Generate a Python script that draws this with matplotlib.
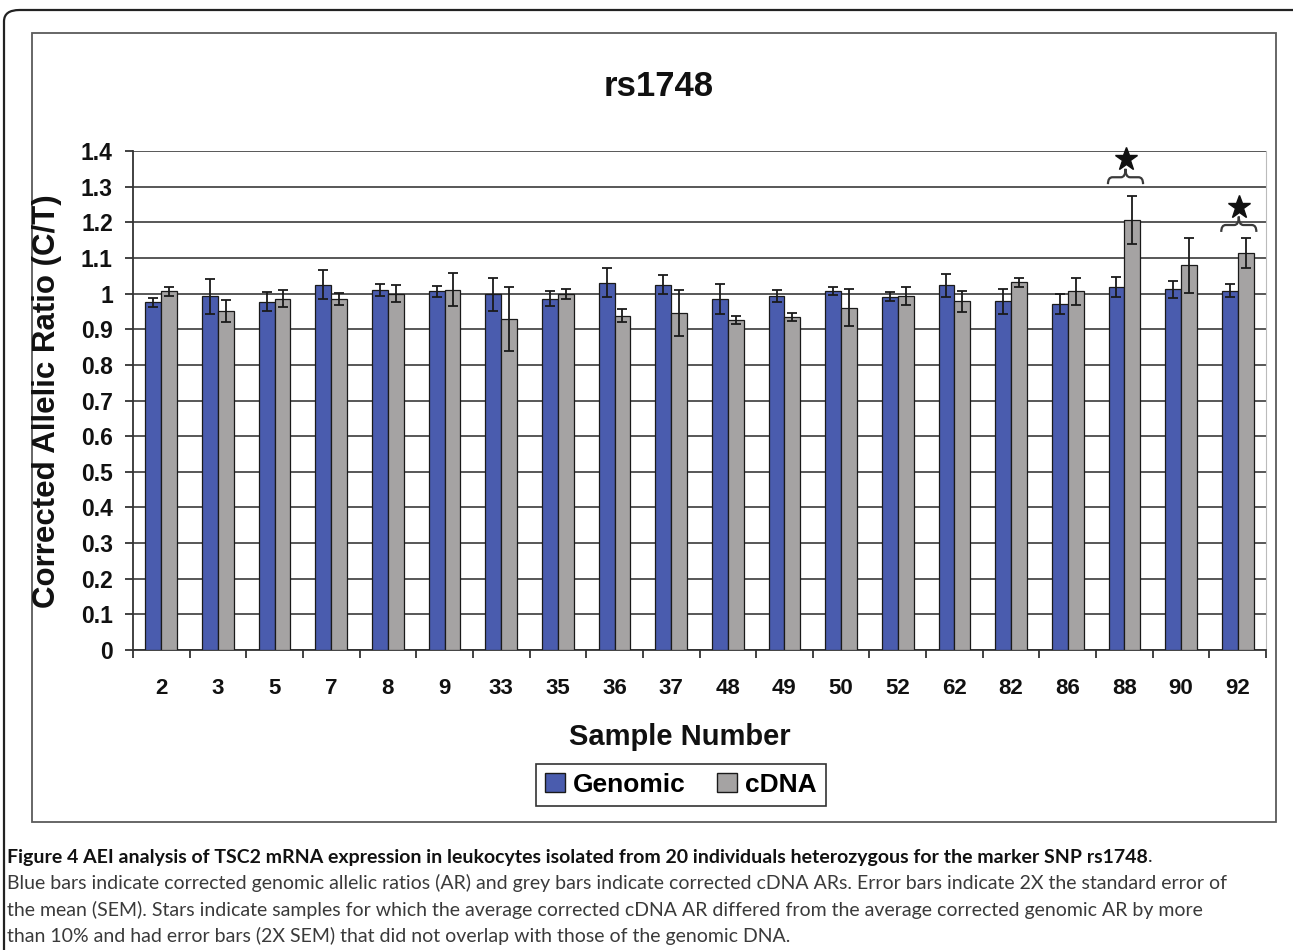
import numpy as np
import matplotlib
matplotlib.use("Agg")
import matplotlib.pyplot as plt
from matplotlib.patches import Patch, Rectangle, FancyBboxPatch, PathPatch
from matplotlib.path import Path
from matplotlib.ticker import FixedLocator, FuncFormatter

plt.rcParams["font.family"] = ["Liberation Sans", "DejaVu Sans"]

# Data
samples = ["2", "3", "5", "7", "8", "9", "33", "35", "36", "37",
           "48", "49", "50", "52", "62", "82", "86", "88", "90", "92"]
genomic = [0.975, 0.992, 0.977, 1.025, 1.011, 1.006, 0.998, 0.986, 1.031, 1.025,
           0.986, 0.993, 1.008, 0.991, 1.023, 0.978, 0.971, 1.019, 1.012, 1.008]
genomic_err = [0.012, 0.050, 0.027, 0.040, 0.017, 0.015, 0.047, 0.020, 0.040, 0.027,
               0.042, 0.016, 0.011, 0.013, 0.032, 0.034, 0.029, 0.028, 0.024, 0.018]
cdna = [1.006, 0.951, 0.986, 0.985, 1.000, 1.011, 0.929, 1.000, 0.938, 0.946,
        0.926, 0.935, 0.960, 0.993, 0.978, 1.032, 1.006, 1.207, 1.079, 1.115]
cdna_err = [0.013, 0.030, 0.023, 0.017, 0.023, 0.047, 0.089, 0.014, 0.019, 0.065,
            0.010, 0.011, 0.052, 0.026, 0.029, 0.013, 0.039, 0.067, 0.078, 0.042]
starred = ["88", "92"]

W, H = 1293, 950
fig = plt.figure(figsize=(W / 100, H / 100), dpi=100)

def fx(px):
    return px / W

def fy(py):
    return 1 - py / H

# outer rounded border (bottom/right run off the page) and inner chart frame
fig.patches.append(FancyBboxPatch((fx(4), fy(990)), fx(1340), fy(10) - fy(990),
                                  boxstyle="round,pad=0,rounding_size=0.012",
                                  transform=fig.transFigure, fill=False,
                                  edgecolor="#222222", lw=1.6, clip_on=False))
fig.patches.append(Rectangle((fx(32), fy(822)), fx(1244), fy(33) - fy(822),
                             transform=fig.transFigure, fill=False,
                             edgecolor="#5a5a5a", lw=1.3))

ax = fig.add_axes([fx(133), fy(650), fx(1266) - fx(133), fy(151) - fy(650)])

x = np.arange(len(samples))
w = 0.28
blue = "#4a5cae"
grey = "#a5a3a3"
ax.bar(x - w / 2, genomic, w, color=blue, edgecolor="#1a1a1a", lw=0.9, zorder=3)
ax.bar(x + w / 2, cdna, w, color=grey, edgecolor="#1a1a1a", lw=0.9, zorder=3)
ax.errorbar(x - w / 2, genomic, yerr=genomic_err, fmt="none", ecolor="#1a1a1a",
            elinewidth=1.3, capsize=3.5, capthick=1.3, zorder=4)
ax.errorbar(x + w / 2, cdna, yerr=cdna_err, fmt="none", ecolor="#1a1a1a",
            elinewidth=1.3, capsize=3.5, capthick=1.3, zorder=4)

ax.set_xlim(-0.5, len(samples) - 0.5)
ax.set_ylim(0, 1.4)
yt = np.round(np.arange(0, 1.41, 0.1), 1)
ax.yaxis.set_major_locator(FixedLocator(yt))
ax.yaxis.set_major_formatter(FuncFormatter(lambda v, p: f"{v:g}"))
ax.grid(axis="y", color="#4a4a4a", lw=1.3, zorder=1)
ax.set_axisbelow(True)

ax.set_xticks(x)
ax.set_xticklabels(samples)
ax.set_xticks(np.arange(len(samples) + 1) - 0.5, minor=True)
ax.tick_params(axis="x", which="major", length=0, pad=20, labelsize=16)
ax.tick_params(axis="x", which="minor", length=5.5, width=1.3, color="#333333")
ax.tick_params(axis="y", length=5.5, width=1.3, color="#333333", pad=9, labelsize=16.5)
for lab in ax.get_xticklabels() + ax.get_yticklabels():
    lab.set_fontweight("bold")
    lab.set_color("#111111")

ax.spines["top"].set_visible(False)
ax.spines["right"].set_color("#bbbbbb")
ax.spines["left"].set_color("#333333")
ax.spines["left"].set_lw(1.3)
ax.spines["bottom"].set_color("#333333")
ax.spines["bottom"].set_lw(1.3)

# stars with curly braces
def brace(xc, yb, half=0.31, h=0.043):
    ym = yb + h * 0.45
    yt_ = yb + h
    r = 0.08
    verts = [(xc - half, yb), (xc - half, ym), (xc - half + r, ym),
             (xc - r, ym), (xc, ym), (xc, yt_),
             (xc, ym), (xc + r, ym),
             (xc + half - r, ym), (xc + half, ym), (xc + half, yb)]
    codes = [Path.MOVETO, Path.CURVE3, Path.CURVE3,
             Path.LINETO, Path.CURVE3, Path.CURVE3,
             Path.CURVE3, Path.CURVE3,
             Path.LINETO, Path.CURVE3, Path.CURVE3]
    ax.add_patch(PathPatch(Path(verts, codes), fill=False, edgecolor="#3a3a3a",
                           lw=1.6, clip_on=False, zorder=5))
    ax.plot(xc, yt_ + 0.028, marker="*", ms=17, color="#111111",
            clip_on=False, zorder=5)

brace_base = {"88": 1.307, "92": 1.173}
for s in starred:
    i = samples.index(s)
    brace(x[i] + 0.02, brace_base[s])

# texts
fig.text(fx(659), fy(87), "rs1748", ha="center", va="center",
         fontsize=25, fontweight="bold", color="#111111")
fig.text(fx(47), fy(401), "Corrected Allelic Ratio (C/T)", rotation=90,
         ha="center", va="center", fontsize=22.5, fontweight="bold", color="#111111")
fig.text(fx(680), fy(737), "Sample Number", ha="center", va="center",
         fontsize=21, fontweight="bold", color="#111111")

handles = [Patch(facecolor=blue, edgecolor="#1a1a1a", label="Genomic"),
           Patch(facecolor=grey, edgecolor="#1a1a1a", label="cDNA")]
leg = fig.legend(handles=handles, loc="center", bbox_to_anchor=(fx(681), fy(785)),
                 ncol=2, fancybox=False, edgecolor="#333333", framealpha=1,
                 prop={"weight": "bold", "size": 19}, handlelength=0.75,
                 handleheight=0.75, handletextpad=0.3, columnspacing=1.2,
                 borderpad=0.35)
leg.get_frame().set_linewidth(1.2)

cap_font = ["Lato", "DejaVu Sans"]
cap_size = 14
t1 = fig.text(fx(7), fy(857), "Figure 4 AEI analysis of TSC2 mRNA expression in leukocytes "
              "isolated from 20 individuals heterozygous for the marker SNP rs1748",
              ha="left", va="center", fontsize=cap_size, fontweight="bold",
              family=cap_font, color="#111111")
ax.annotate(".", xy=(1, 0.5), xycoords=t1, va="center", ha="left",
            fontsize=cap_size, family=cap_font, color="#222222")
lines = [
    "Blue bars indicate corrected genomic allelic ratios (AR) and grey bars indicate "
    "corrected cDNA ARs. Error bars indicate 2X the standard error of",
    "the mean (SEM). Stars indicate samples for which the average corrected cDNA AR "
    "differed from the average corrected genomic AR by more",
    "than 10% and had error bars (2X SEM) that did not overlap with those of the genomic DNA.",
]
for k, line in enumerate(lines):
    fig.text(fx(7), fy(883 + 26.5 * k), line, ha="left", va="center",
             fontsize=cap_size, family=cap_font, color="#3a3a3a")

fig.savefig("out.png", dpi=100)
